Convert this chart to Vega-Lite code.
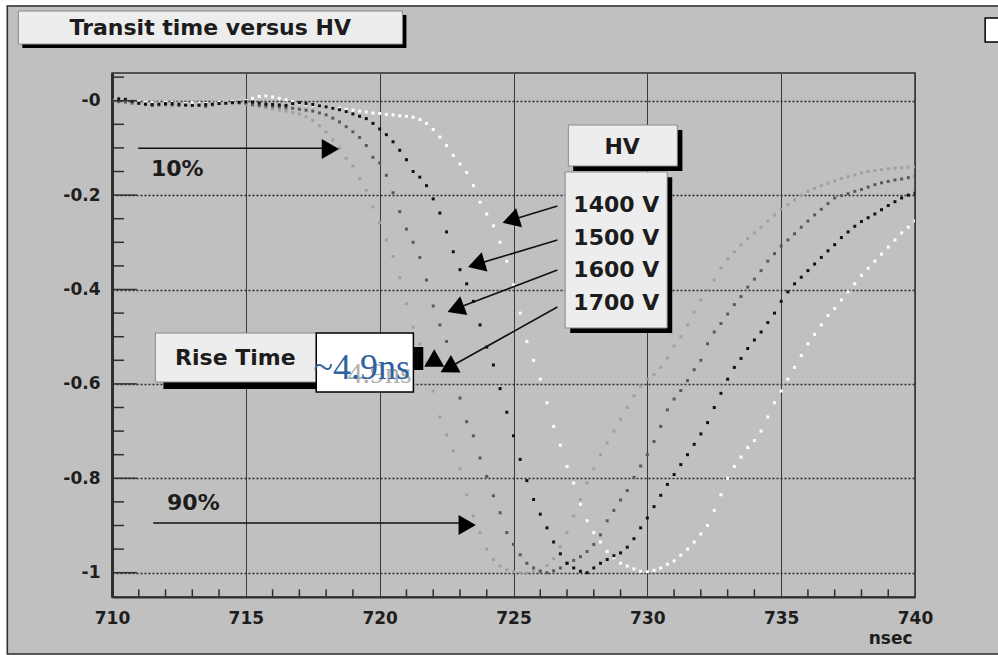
{
"$schema": "https://vega.github.io/schema/vega-lite/v6.json",
"width": 803, "height": 524,
"autosize": {"type": "none"},
"padding": {"left": 112, "top": 73, "right": 83, "bottom": 58},
"background": "#c0c0c0",
"config": {
  "view": {"stroke": "#2e2e2e", "strokeWidth": 1.5},
  "axis": {"labelFont": "DejaVu Sans", "labelFontWeight": "bold", "labelColor": "#1e1e1e", "labelFontSize": 17, "ticks": false, "titleFont": "DejaVu Sans"}
},
"datasets": {
  "curves": [
{"s":"1700 V","t":710,"v":0.004},{"s":"1700 V","t":710.25,"v":0.002},{"s":"1700 V","t":710.5,"v":0.0},{"s":"1700 V","t":710.75,"v":-0.002},
{"s":"1700 V","t":711,"v":-0.004},{"s":"1700 V","t":711.25,"v":-0.005},{"s":"1700 V","t":711.5,"v":-0.006},{"s":"1700 V","t":711.75,"v":-0.008},
{"s":"1700 V","t":712,"v":-0.01},{"s":"1700 V","t":712.25,"v":-0.009},{"s":"1700 V","t":712.5,"v":-0.008},{"s":"1700 V","t":712.75,"v":-0.007},
{"s":"1700 V","t":713,"v":-0.006},{"s":"1700 V","t":713.25,"v":-0.008},{"s":"1700 V","t":713.5,"v":-0.01},{"s":"1700 V","t":713.75,"v":-0.008},
{"s":"1700 V","t":714,"v":-0.005},{"s":"1700 V","t":714.25,"v":-0.005},{"s":"1700 V","t":714.5,"v":-0.006},{"s":"1700 V","t":714.75,"v":-0.007},
{"s":"1700 V","t":715,"v":-0.008},{"s":"1700 V","t":715.25,"v":-0.01},{"s":"1700 V","t":715.5,"v":-0.012},{"s":"1700 V","t":715.75,"v":-0.015},
{"s":"1700 V","t":716,"v":-0.018},{"s":"1700 V","t":716.25,"v":-0.02},{"s":"1700 V","t":716.5,"v":-0.022},{"s":"1700 V","t":716.75,"v":-0.025},
{"s":"1700 V","t":717,"v":-0.028},{"s":"1700 V","t":717.25,"v":-0.034},{"s":"1700 V","t":717.5,"v":-0.042},{"s":"1700 V","t":717.75,"v":-0.053},
{"s":"1700 V","t":718,"v":-0.066},{"s":"1700 V","t":718.25,"v":-0.083},{"s":"1700 V","t":718.5,"v":-0.1},{"s":"1700 V","t":718.75,"v":-0.122},
{"s":"1700 V","t":719,"v":-0.138},{"s":"1700 V","t":719.25,"v":-0.165},{"s":"1700 V","t":719.5,"v":-0.19},{"s":"1700 V","t":719.75,"v":-0.225},
{"s":"1700 V","t":720,"v":-0.258},{"s":"1700 V","t":720.25,"v":-0.295},{"s":"1700 V","t":720.5,"v":-0.33},{"s":"1700 V","t":720.75,"v":-0.375},
{"s":"1700 V","t":721,"v":-0.43},{"s":"1700 V","t":721.25,"v":-0.48},{"s":"1700 V","t":721.5,"v":-0.515},{"s":"1700 V","t":721.75,"v":-0.555},
{"s":"1700 V","t":722,"v":-0.615},{"s":"1700 V","t":722.25,"v":-0.67},{"s":"1700 V","t":722.5,"v":-0.708},{"s":"1700 V","t":722.75,"v":-0.742},
{"s":"1700 V","t":723,"v":-0.78},{"s":"1700 V","t":723.25,"v":-0.835},{"s":"1700 V","t":723.5,"v":-0.88},{"s":"1700 V","t":723.75,"v":-0.915},
{"s":"1700 V","t":724,"v":-0.95},{"s":"1700 V","t":724.25,"v":-0.972},{"s":"1700 V","t":724.5,"v":-0.986},{"s":"1700 V","t":724.75,"v":-0.994},
{"s":"1700 V","t":725,"v":-0.998},{"s":"1700 V","t":725.25,"v":-1.0},{"s":"1700 V","t":725.5,"v":-1.0},{"s":"1700 V","t":725.75,"v":-0.998},
{"s":"1700 V","t":726,"v":-0.995},{"s":"1700 V","t":726.25,"v":-0.985},{"s":"1700 V","t":726.5,"v":-0.97},{"s":"1700 V","t":726.75,"v":-0.945},
{"s":"1700 V","t":727,"v":-0.915},{"s":"1700 V","t":727.25,"v":-0.88},{"s":"1700 V","t":727.5,"v":-0.845},{"s":"1700 V","t":727.75,"v":-0.81},
{"s":"1700 V","t":728,"v":-0.78},{"s":"1700 V","t":728.25,"v":-0.75},{"s":"1700 V","t":728.5,"v":-0.725},{"s":"1700 V","t":728.75,"v":-0.7},
{"s":"1700 V","t":729,"v":-0.675},{"s":"1700 V","t":729.25,"v":-0.65},{"s":"1700 V","t":729.5,"v":-0.625},{"s":"1700 V","t":729.75,"v":-0.605},
{"s":"1700 V","t":730,"v":-0.59},{"s":"1700 V","t":730.25,"v":-0.58},{"s":"1700 V","t":730.5,"v":-0.565},{"s":"1700 V","t":730.75,"v":-0.545},
{"s":"1700 V","t":731,"v":-0.52},{"s":"1700 V","t":731.25,"v":-0.5},{"s":"1700 V","t":731.5,"v":-0.475},{"s":"1700 V","t":731.75,"v":-0.448},
{"s":"1700 V","t":732,"v":-0.422},{"s":"1700 V","t":732.25,"v":-0.402},{"s":"1700 V","t":732.5,"v":-0.38},{"s":"1700 V","t":732.75,"v":-0.354},
{"s":"1700 V","t":733,"v":-0.335},{"s":"1700 V","t":733.25,"v":-0.32},{"s":"1700 V","t":733.5,"v":-0.305},{"s":"1700 V","t":733.75,"v":-0.292},
{"s":"1700 V","t":734,"v":-0.28},{"s":"1700 V","t":734.25,"v":-0.268},{"s":"1700 V","t":734.5,"v":-0.255},{"s":"1700 V","t":734.75,"v":-0.242},
{"s":"1700 V","t":735,"v":-0.23},{"s":"1700 V","t":735.25,"v":-0.22},{"s":"1700 V","t":735.5,"v":-0.21},{"s":"1700 V","t":735.75,"v":-0.2},
{"s":"1700 V","t":736,"v":-0.192},{"s":"1700 V","t":736.25,"v":-0.186},{"s":"1700 V","t":736.5,"v":-0.18},{"s":"1700 V","t":736.75,"v":-0.175},
{"s":"1700 V","t":737,"v":-0.17},{"s":"1700 V","t":737.25,"v":-0.165},{"s":"1700 V","t":737.5,"v":-0.161},{"s":"1700 V","t":737.75,"v":-0.157},
{"s":"1700 V","t":738,"v":-0.153},{"s":"1700 V","t":738.25,"v":-0.15},{"s":"1700 V","t":738.5,"v":-0.148},{"s":"1700 V","t":738.75,"v":-0.146},
{"s":"1700 V","t":739,"v":-0.144},{"s":"1700 V","t":739.25,"v":-0.143},{"s":"1700 V","t":739.5,"v":-0.142},{"s":"1700 V","t":739.75,"v":-0.141},
{"s":"1700 V","t":740,"v":-0.14},
{"s":"1600 V","t":710,"v":0.0},{"s":"1600 V","t":710.25,"v":-0.002},{"s":"1600 V","t":710.5,"v":-0.003},{"s":"1600 V","t":710.75,"v":-0.005},
{"s":"1600 V","t":711,"v":-0.006},{"s":"1600 V","t":711.25,"v":-0.008},{"s":"1600 V","t":711.5,"v":-0.01},{"s":"1600 V","t":711.75,"v":-0.009},
{"s":"1600 V","t":712,"v":-0.008},{"s":"1600 V","t":712.25,"v":-0.009},{"s":"1600 V","t":712.5,"v":-0.01},{"s":"1600 V","t":712.75,"v":-0.009},
{"s":"1600 V","t":713,"v":-0.008},{"s":"1600 V","t":713.25,"v":-0.01},{"s":"1600 V","t":713.5,"v":-0.012},{"s":"1600 V","t":713.75,"v":-0.009},
{"s":"1600 V","t":714,"v":-0.006},{"s":"1600 V","t":714.25,"v":-0.005},{"s":"1600 V","t":714.5,"v":-0.004},{"s":"1600 V","t":714.75,"v":-0.004},
{"s":"1600 V","t":715,"v":-0.005},{"s":"1600 V","t":715.25,"v":-0.008},{"s":"1600 V","t":715.5,"v":-0.01},{"s":"1600 V","t":715.75,"v":-0.011},
{"s":"1600 V","t":716,"v":-0.012},{"s":"1600 V","t":716.25,"v":-0.013},{"s":"1600 V","t":716.5,"v":-0.015},{"s":"1600 V","t":716.75,"v":-0.016},
{"s":"1600 V","t":717,"v":-0.018},{"s":"1600 V","t":717.25,"v":-0.02},{"s":"1600 V","t":717.5,"v":-0.022},{"s":"1600 V","t":717.75,"v":-0.026},
{"s":"1600 V","t":718,"v":-0.03},{"s":"1600 V","t":718.25,"v":-0.037},{"s":"1600 V","t":718.5,"v":-0.045},{"s":"1600 V","t":718.75,"v":-0.055},
{"s":"1600 V","t":719,"v":-0.066},{"s":"1600 V","t":719.25,"v":-0.078},{"s":"1600 V","t":719.5,"v":-0.095},{"s":"1600 V","t":719.75,"v":-0.12},
{"s":"1600 V","t":720,"v":-0.132},{"s":"1600 V","t":720.25,"v":-0.158},{"s":"1600 V","t":720.5,"v":-0.195},{"s":"1600 V","t":720.75,"v":-0.235},
{"s":"1600 V","t":721,"v":-0.272},{"s":"1600 V","t":721.25,"v":-0.3},{"s":"1600 V","t":721.5,"v":-0.332},{"s":"1600 V","t":721.75,"v":-0.38},
{"s":"1600 V","t":722,"v":-0.435},{"s":"1600 V","t":722.25,"v":-0.475},{"s":"1600 V","t":722.5,"v":-0.51},{"s":"1600 V","t":722.75,"v":-0.57},
{"s":"1600 V","t":723,"v":-0.63},{"s":"1600 V","t":723.25,"v":-0.68},{"s":"1600 V","t":723.5,"v":-0.71},{"s":"1600 V","t":723.75,"v":-0.757},
{"s":"1600 V","t":724,"v":-0.796},{"s":"1600 V","t":724.25,"v":-0.837},{"s":"1600 V","t":724.5,"v":-0.873},{"s":"1600 V","t":724.75,"v":-0.915},
{"s":"1600 V","t":725,"v":-0.94},{"s":"1600 V","t":725.25,"v":-0.962},{"s":"1600 V","t":725.5,"v":-0.98},{"s":"1600 V","t":725.75,"v":-0.99},
{"s":"1600 V","t":726,"v":-0.997},{"s":"1600 V","t":726.25,"v":-1.0},{"s":"1600 V","t":726.5,"v":-0.996},{"s":"1600 V","t":726.75,"v":-0.99},
{"s":"1600 V","t":727,"v":-0.98},{"s":"1600 V","t":727.25,"v":-0.974},{"s":"1600 V","t":727.5,"v":-0.966},{"s":"1600 V","t":727.75,"v":-0.955},
{"s":"1600 V","t":728,"v":-0.94},{"s":"1600 V","t":728.25,"v":-0.92},{"s":"1600 V","t":728.5,"v":-0.89},{"s":"1600 V","t":728.75,"v":-0.868},
{"s":"1600 V","t":729,"v":-0.846},{"s":"1600 V","t":729.25,"v":-0.826},{"s":"1600 V","t":729.5,"v":-0.798},{"s":"1600 V","t":729.75,"v":-0.774},
{"s":"1600 V","t":730,"v":-0.75},{"s":"1600 V","t":730.25,"v":-0.722},{"s":"1600 V","t":730.5,"v":-0.69},{"s":"1600 V","t":730.75,"v":-0.655},
{"s":"1600 V","t":731,"v":-0.632},{"s":"1600 V","t":731.25,"v":-0.614},{"s":"1600 V","t":731.5,"v":-0.593},{"s":"1600 V","t":731.75,"v":-0.57},
{"s":"1600 V","t":732,"v":-0.55},{"s":"1600 V","t":732.25,"v":-0.515},{"s":"1600 V","t":732.5,"v":-0.49},{"s":"1600 V","t":732.75,"v":-0.472},
{"s":"1600 V","t":733,"v":-0.452},{"s":"1600 V","t":733.25,"v":-0.432},{"s":"1600 V","t":733.5,"v":-0.415},{"s":"1600 V","t":733.75,"v":-0.395},
{"s":"1600 V","t":734,"v":-0.378},{"s":"1600 V","t":734.25,"v":-0.36},{"s":"1600 V","t":734.5,"v":-0.34},{"s":"1600 V","t":734.75,"v":-0.324},
{"s":"1600 V","t":735,"v":-0.308},{"s":"1600 V","t":735.25,"v":-0.295},{"s":"1600 V","t":735.5,"v":-0.282},{"s":"1600 V","t":735.75,"v":-0.268},
{"s":"1600 V","t":736,"v":-0.255},{"s":"1600 V","t":736.25,"v":-0.242},{"s":"1600 V","t":736.5,"v":-0.23},{"s":"1600 V","t":736.75,"v":-0.218},
{"s":"1600 V","t":737,"v":-0.206},{"s":"1600 V","t":737.25,"v":-0.201},{"s":"1600 V","t":737.5,"v":-0.197},{"s":"1600 V","t":737.75,"v":-0.192},
{"s":"1600 V","t":738,"v":-0.188},{"s":"1600 V","t":738.25,"v":-0.183},{"s":"1600 V","t":738.5,"v":-0.178},{"s":"1600 V","t":738.75,"v":-0.174},
{"s":"1600 V","t":739,"v":-0.171},{"s":"1600 V","t":739.25,"v":-0.168},{"s":"1600 V","t":739.5,"v":-0.166},{"s":"1600 V","t":739.75,"v":-0.163},
{"s":"1600 V","t":740,"v":-0.16},
{"s":"1400 V","t":710,"v":0.004},{"s":"1400 V","t":710.25,"v":0.003},{"s":"1400 V","t":710.5,"v":0.002},{"s":"1400 V","t":710.75,"v":0.0},
{"s":"1400 V","t":711,"v":-0.002},{"s":"1400 V","t":711.25,"v":-0.003},{"s":"1400 V","t":711.5,"v":-0.004},{"s":"1400 V","t":711.75,"v":-0.005},
{"s":"1400 V","t":712,"v":-0.003},{"s":"1400 V","t":712.25,"v":-0.004},{"s":"1400 V","t":712.5,"v":-0.005},{"s":"1400 V","t":712.75,"v":-0.006},
{"s":"1400 V","t":713,"v":-0.004},{"s":"1400 V","t":713.25,"v":-0.005},{"s":"1400 V","t":713.5,"v":-0.006},{"s":"1400 V","t":713.75,"v":-0.005},
{"s":"1400 V","t":714,"v":-0.003},{"s":"1400 V","t":714.25,"v":-0.003},{"s":"1400 V","t":714.5,"v":-0.002},{"s":"1400 V","t":714.75,"v":-0.001},
{"s":"1400 V","t":715,"v":0.0},{"s":"1400 V","t":715.25,"v":0.005},{"s":"1400 V","t":715.5,"v":0.009},{"s":"1400 V","t":715.75,"v":0.01},
{"s":"1400 V","t":716,"v":0.008},{"s":"1400 V","t":716.25,"v":0.005},{"s":"1400 V","t":716.5,"v":0.002},{"s":"1400 V","t":716.75,"v":-0.002},
{"s":"1400 V","t":717,"v":-0.005},{"s":"1400 V","t":717.25,"v":-0.008},{"s":"1400 V","t":717.5,"v":-0.01},{"s":"1400 V","t":717.75,"v":-0.012},
{"s":"1400 V","t":718,"v":-0.013},{"s":"1400 V","t":718.25,"v":-0.015},{"s":"1400 V","t":718.5,"v":-0.016},{"s":"1400 V","t":718.75,"v":-0.018},
{"s":"1400 V","t":719,"v":-0.02},{"s":"1400 V","t":719.25,"v":-0.022},{"s":"1400 V","t":719.5,"v":-0.024},{"s":"1400 V","t":719.75,"v":-0.026},
{"s":"1400 V","t":720,"v":-0.027},{"s":"1400 V","t":720.25,"v":-0.029},{"s":"1400 V","t":720.5,"v":-0.03},{"s":"1400 V","t":720.75,"v":-0.032},
{"s":"1400 V","t":721,"v":-0.033},{"s":"1400 V","t":721.25,"v":-0.035},{"s":"1400 V","t":721.5,"v":-0.04},{"s":"1400 V","t":721.75,"v":-0.048},
{"s":"1400 V","t":722,"v":-0.061},{"s":"1400 V","t":722.25,"v":-0.077},{"s":"1400 V","t":722.5,"v":-0.095},{"s":"1400 V","t":722.75,"v":-0.116},
{"s":"1400 V","t":723,"v":-0.134},{"s":"1400 V","t":723.25,"v":-0.152},{"s":"1400 V","t":723.5,"v":-0.18},{"s":"1400 V","t":723.75,"v":-0.215},
{"s":"1400 V","t":724,"v":-0.24},{"s":"1400 V","t":724.25,"v":-0.265},{"s":"1400 V","t":724.5,"v":-0.3},{"s":"1400 V","t":724.75,"v":-0.34},
{"s":"1400 V","t":725,"v":-0.39},{"s":"1400 V","t":725.25,"v":-0.45},{"s":"1400 V","t":725.5,"v":-0.51},{"s":"1400 V","t":725.75,"v":-0.55},
{"s":"1400 V","t":726,"v":-0.59},{"s":"1400 V","t":726.25,"v":-0.64},{"s":"1400 V","t":726.5,"v":-0.69},{"s":"1400 V","t":726.75,"v":-0.73},
{"s":"1400 V","t":727,"v":-0.775},{"s":"1400 V","t":727.25,"v":-0.81},{"s":"1400 V","t":727.5,"v":-0.855},{"s":"1400 V","t":727.75,"v":-0.89},
{"s":"1400 V","t":728,"v":-0.915},{"s":"1400 V","t":728.25,"v":-0.935},{"s":"1400 V","t":728.5,"v":-0.955},{"s":"1400 V","t":728.75,"v":-0.968},
{"s":"1400 V","t":729,"v":-0.98},{"s":"1400 V","t":729.25,"v":-0.986},{"s":"1400 V","t":729.5,"v":-0.992},{"s":"1400 V","t":729.75,"v":-0.997},
{"s":"1400 V","t":730,"v":-0.998},{"s":"1400 V","t":730.25,"v":-0.995},{"s":"1400 V","t":730.5,"v":-0.99},{"s":"1400 V","t":730.75,"v":-0.982},
{"s":"1400 V","t":731,"v":-0.975},{"s":"1400 V","t":731.25,"v":-0.963},{"s":"1400 V","t":731.5,"v":-0.95},{"s":"1400 V","t":731.75,"v":-0.935},
{"s":"1400 V","t":732,"v":-0.918},{"s":"1400 V","t":732.25,"v":-0.9},{"s":"1400 V","t":732.5,"v":-0.868},{"s":"1400 V","t":732.75,"v":-0.835},
{"s":"1400 V","t":733,"v":-0.8},{"s":"1400 V","t":733.25,"v":-0.775},{"s":"1400 V","t":733.5,"v":-0.755},{"s":"1400 V","t":733.75,"v":-0.735},
{"s":"1400 V","t":734,"v":-0.72},{"s":"1400 V","t":734.25,"v":-0.7},{"s":"1400 V","t":734.5,"v":-0.67},{"s":"1400 V","t":734.75,"v":-0.64},
{"s":"1400 V","t":735,"v":-0.615},{"s":"1400 V","t":735.25,"v":-0.59},{"s":"1400 V","t":735.5,"v":-0.565},{"s":"1400 V","t":735.75,"v":-0.54},
{"s":"1400 V","t":736,"v":-0.515},{"s":"1400 V","t":736.25,"v":-0.495},{"s":"1400 V","t":736.5,"v":-0.475},{"s":"1400 V","t":736.75,"v":-0.455},
{"s":"1400 V","t":737,"v":-0.44},{"s":"1400 V","t":737.25,"v":-0.422},{"s":"1400 V","t":737.5,"v":-0.405},{"s":"1400 V","t":737.75,"v":-0.388},
{"s":"1400 V","t":738,"v":-0.37},{"s":"1400 V","t":738.25,"v":-0.355},{"s":"1400 V","t":738.5,"v":-0.34},{"s":"1400 V","t":738.75,"v":-0.325},
{"s":"1400 V","t":739,"v":-0.31},{"s":"1400 V","t":739.25,"v":-0.295},{"s":"1400 V","t":739.5,"v":-0.28},{"s":"1400 V","t":739.75,"v":-0.268},
{"s":"1400 V","t":740,"v":-0.255},
{"s":"1500 V","t":710,"v":0.005},{"s":"1500 V","t":710.25,"v":0.004},{"s":"1500 V","t":710.5,"v":0.003},{"s":"1500 V","t":710.75,"v":-0.001},
{"s":"1500 V","t":711,"v":-0.005},{"s":"1500 V","t":711.25,"v":-0.007},{"s":"1500 V","t":711.5,"v":-0.008},{"s":"1500 V","t":711.75,"v":-0.007},
{"s":"1500 V","t":712,"v":-0.006},{"s":"1500 V","t":712.25,"v":-0.006},{"s":"1500 V","t":712.5,"v":-0.007},{"s":"1500 V","t":712.75,"v":-0.009},
{"s":"1500 V","t":713,"v":-0.01},{"s":"1500 V","t":713.25,"v":-0.009},{"s":"1500 V","t":713.5,"v":-0.008},{"s":"1500 V","t":713.75,"v":-0.007},
{"s":"1500 V","t":714,"v":-0.006},{"s":"1500 V","t":714.25,"v":-0.005},{"s":"1500 V","t":714.5,"v":-0.004},{"s":"1500 V","t":714.75,"v":-0.003},
{"s":"1500 V","t":715,"v":-0.002},{"s":"1500 V","t":715.25,"v":-0.003},{"s":"1500 V","t":715.5,"v":-0.005},{"s":"1500 V","t":715.75,"v":-0.007},
{"s":"1500 V","t":716,"v":-0.008},{"s":"1500 V","t":716.25,"v":-0.009},{"s":"1500 V","t":716.5,"v":-0.01},{"s":"1500 V","t":716.75,"v":-0.006},
{"s":"1500 V","t":717,"v":-0.004},{"s":"1500 V","t":717.25,"v":-0.006},{"s":"1500 V","t":717.5,"v":-0.008},{"s":"1500 V","t":717.75,"v":-0.011},
{"s":"1500 V","t":718,"v":-0.013},{"s":"1500 V","t":718.25,"v":-0.016},{"s":"1500 V","t":718.5,"v":-0.019},{"s":"1500 V","t":718.75,"v":-0.023},
{"s":"1500 V","t":719,"v":-0.028},{"s":"1500 V","t":719.25,"v":-0.033},{"s":"1500 V","t":719.5,"v":-0.038},{"s":"1500 V","t":719.75,"v":-0.048},
{"s":"1500 V","t":720,"v":-0.06},{"s":"1500 V","t":720.25,"v":-0.072},{"s":"1500 V","t":720.5,"v":-0.087},{"s":"1500 V","t":720.75,"v":-0.105},
{"s":"1500 V","t":721,"v":-0.125},{"s":"1500 V","t":721.25,"v":-0.15},{"s":"1500 V","t":721.5,"v":-0.162},{"s":"1500 V","t":721.75,"v":-0.18},
{"s":"1500 V","t":722,"v":-0.208},{"s":"1500 V","t":722.25,"v":-0.238},{"s":"1500 V","t":722.5,"v":-0.278},{"s":"1500 V","t":722.75,"v":-0.32},
{"s":"1500 V","t":723,"v":-0.358},{"s":"1500 V","t":723.25,"v":-0.388},{"s":"1500 V","t":723.5,"v":-0.425},{"s":"1500 V","t":723.75,"v":-0.475},
{"s":"1500 V","t":724,"v":-0.522},{"s":"1500 V","t":724.25,"v":-0.56},{"s":"1500 V","t":724.5,"v":-0.61},{"s":"1500 V","t":724.75,"v":-0.66},
{"s":"1500 V","t":725,"v":-0.71},{"s":"1500 V","t":725.25,"v":-0.76},{"s":"1500 V","t":725.5,"v":-0.805},{"s":"1500 V","t":725.75,"v":-0.845},
{"s":"1500 V","t":726,"v":-0.876},{"s":"1500 V","t":726.25,"v":-0.905},{"s":"1500 V","t":726.5,"v":-0.935},{"s":"1500 V","t":726.75,"v":-0.96},
{"s":"1500 V","t":727,"v":-0.98},{"s":"1500 V","t":727.25,"v":-0.99},{"s":"1500 V","t":727.5,"v":-0.997},{"s":"1500 V","t":727.75,"v":-1.0},
{"s":"1500 V","t":728,"v":-0.99},{"s":"1500 V","t":728.25,"v":-0.98},{"s":"1500 V","t":728.5,"v":-0.972},{"s":"1500 V","t":728.75,"v":-0.964},
{"s":"1500 V","t":729,"v":-0.958},{"s":"1500 V","t":729.25,"v":-0.946},{"s":"1500 V","t":729.5,"v":-0.928},{"s":"1500 V","t":729.75,"v":-0.905},
{"s":"1500 V","t":730,"v":-0.884},{"s":"1500 V","t":730.25,"v":-0.86},{"s":"1500 V","t":730.5,"v":-0.836},{"s":"1500 V","t":730.75,"v":-0.813},
{"s":"1500 V","t":731,"v":-0.792},{"s":"1500 V","t":731.25,"v":-0.771},{"s":"1500 V","t":731.5,"v":-0.75},{"s":"1500 V","t":731.75,"v":-0.728},
{"s":"1500 V","t":732,"v":-0.706},{"s":"1500 V","t":732.25,"v":-0.682},{"s":"1500 V","t":732.5,"v":-0.65},{"s":"1500 V","t":732.75,"v":-0.62},
{"s":"1500 V","t":733,"v":-0.59},{"s":"1500 V","t":733.25,"v":-0.565},{"s":"1500 V","t":733.5,"v":-0.546},{"s":"1500 V","t":733.75,"v":-0.525},
{"s":"1500 V","t":734,"v":-0.507},{"s":"1500 V","t":734.25,"v":-0.49},{"s":"1500 V","t":734.5,"v":-0.47},{"s":"1500 V","t":734.75,"v":-0.45},
{"s":"1500 V","t":735,"v":-0.425},{"s":"1500 V","t":735.25,"v":-0.405},{"s":"1500 V","t":735.5,"v":-0.388},{"s":"1500 V","t":735.75,"v":-0.374},
{"s":"1500 V","t":736,"v":-0.36},{"s":"1500 V","t":736.25,"v":-0.346},{"s":"1500 V","t":736.5,"v":-0.332},{"s":"1500 V","t":736.75,"v":-0.318},
{"s":"1500 V","t":737,"v":-0.305},{"s":"1500 V","t":737.25,"v":-0.29},{"s":"1500 V","t":737.5,"v":-0.278},{"s":"1500 V","t":737.75,"v":-0.266},
{"s":"1500 V","t":738,"v":-0.256},{"s":"1500 V","t":738.25,"v":-0.248},{"s":"1500 V","t":738.5,"v":-0.24},{"s":"1500 V","t":738.75,"v":-0.231},
{"s":"1500 V","t":739,"v":-0.222},{"s":"1500 V","t":739.25,"v":-0.214},{"s":"1500 V","t":739.5,"v":-0.206},{"s":"1500 V","t":739.75,"v":-0.2},
{"s":"1500 V","t":740,"v":-0.196}
  ],
  "strips": [
    {"t": 705.0, "t2": 706.06, "v": 0.3, "v2": -1.3},
    {"t": 705.0, "t2": 745.0, "v": 0.3, "v2": 0.2021},
    {"t": 705.0, "t2": 745.0, "v": -1.1733, "v2": -1.3}
  ],
  "frame": [{"t": 706.09, "t2": 743.37, "v": 0.2006, "v2": -1.1722}],
  "shadows": [
    {"t": 706.65, "t2": 721.0, "v": 0.1816, "v2": 0.1117},
    {"t": 727.23, "t2": 731.31, "v": -0.0621, "v2": -0.1489},
    {"t": 727.12, "t2": 730.93, "v": -0.162, "v2": -0.4922},
    {"t": 711.92, "t2": 717.86, "v": -0.5028, "v2": -0.6108},
    {"t": 721.22, "t2": 721.63, "v": -0.5218, "v2": -0.5705}
  ],
  "boxes": [
    {"t": 706.5, "t2": 720.85, "v": 0.19, "v2": 0.12},
    {"t": 727.05, "t2": 731.12, "v": -0.0515, "v2": -0.1383},
    {"t": 726.93, "t2": 730.74, "v": -0.151, "v2": -0.4816},
    {"t": 711.62, "t2": 717.67, "v": -0.4922, "v2": -0.596}
  ],
  "whiteboxes": [
    {"t": 717.63, "t2": 721.26, "v": -0.4922, "v2": -0.6172},
    {"t": 742.62, "t2": 743.5, "v": 0.1752, "v2": 0.1244}
  ],
  "labels": [
    {"label": "Transit time versus HV", "t": 713.67, "v": 0.154},
    {"label": "HV", "t": 729.06, "v": -0.098},
    {"label": "1400 V", "t": 728.84, "v": -0.221},
    {"label": "1500 V", "t": 728.84, "v": -0.2909},
    {"label": "1600 V", "t": 728.84, "v": -0.3589},
    {"label": "1700 V", "t": 728.84, "v": -0.4286},
    {"label": "10%", "t": 712.44, "v": -0.1447},
    {"label": "90%", "t": 713.04, "v": -0.8523},
    {"label": "Rise Time", "t": 714.61, "v": -0.5451}
  ],
  "shafts": [
    {"t": 710.98, "v": -0.1008, "t2": 717.97, "v2": -0.1008},
    {"t": 711.54, "v": -0.8947, "t2": 723.09, "v2": -0.8947},
    {"t": 726.64, "v": -0.2231, "t2": 724.92, "v2": -0.2528},
    {"t": 726.64, "v": -0.2951, "t2": 723.61, "v2": -0.3468},
    {"t": 726.64, "v": -0.3587, "t2": 722.84, "v2": -0.4409},
    {"t": 726.64, "v": -0.4371, "t2": 722.56, "v2": -0.5663}
  ],
  "heads": [
    {"t": 718.16, "v": -0.1023, "a": 0},
    {"t": 723.27, "v": -0.899, "a": 0},
    {"t": 724.9, "v": -0.2534, "a": 162.8},
    {"t": 723.61, "v": -0.3468, "a": 163.3},
    {"t": 722.84, "v": -0.4409, "a": 159.1},
    {"t": 722.56, "v": -0.5663, "a": 151},
    {"t": 722.04, "v": -0.5451, "a": -90}
  ]
},
"layer": [
  {
    "data": {"name": "curves"},
    "mark": {"type": "point", "shape": "square", "filled": true, "size": 9, "opacity": 1, "clip": true},
    "encoding": {
      "x": {"field": "t", "type": "quantitative", "scale": {"domain": [710, 740], "nice": false, "zero": false},
        "axis": {"values": [710, 715, 720, 725, 730, 735, 740], "grid": true, "gridColor": "#3a3a3a", "gridWidth": 1, "domainColor": "#2e2e2e", "domainWidth": 2, "labelPadding": 13, "labelFlush": false, "title": "nsec", "titleFontSize": 17, "titleFontWeight": "bold", "titleColor": "#1e1e1e", "titleAnchor": "end", "titleAlign": "right", "titleX": 800, "titleY": 41, "titleBaseline": "middle"}},
      "y": {"field": "v", "type": "quantitative", "scale": {"domain": [-1.0515, 0.0587], "nice": false, "zero": false},
        "axis": {"values": [0, -0.2, -0.4, -0.6, -0.8, -1], "grid": true, "gridDash": [2, 2], "gridColor": "#2a2a2a", "gridWidth": 1.3, "domainColor": "#2e2e2e", "domainWidth": 3, "labelPadding": 12, "title": null,
          "labelExpr": "datum.value == 0 ? '-0' : (datum.value == -1 ? '-1' : '-' + format(-datum.value, '.1f'))"}},
      "color": {"field": "s", "type": "nominal", "scale": {"domain": ["1400 V", "1500 V", "1600 V", "1700 V"], "range": ["#ffffff", "#111111", "#5a5a5a", "#a0a0a0"]}, "legend": null}
    }
  },
  {
    "data": {"name": "strips"},
    "mark": {"type": "rect", "fill": "#ffffff", "clip": false},
    "encoding": {
      "x": {"field": "t", "type": "quantitative"},
      "x2": {"field": "t2"},
      "y": {"field": "v", "type": "quantitative"},
      "y2": {"field": "v2"}
    }
  },
  {
    "data": {"name": "frame"},
    "mark": {"type": "rect", "fill": null, "fillOpacity": 0, "stroke": "#303030", "strokeWidth": 1.5, "clip": false},
    "encoding": {
      "x": {"field": "t", "type": "quantitative"},
      "x2": {"field": "t2"},
      "y": {"field": "v", "type": "quantitative"},
      "y2": {"field": "v2"}
    }
  },
  {
    "data": {"values": [{"v": 0}, {"v": -0.2}, {"v": -0.4}, {"v": -0.6}, {"v": -0.8}, {"v": -1}]},
    "mark": {"type": "rule", "color": "#2e2e2e", "strokeWidth": 1.5},
    "encoding": {
      "y": {"field": "v", "type": "quantitative"},
      "x": {"datum": 710, "type": "quantitative"},
      "x2": {"datum": 710.93}
    }
  },
  {
    "data": {"values": [{"v": 0.05}, {"v": -0.05}, {"v": -0.1}, {"v": -0.15}, {"v": -0.25}, {"v": -0.3}, {"v": -0.35}, {"v": -0.45}, {"v": -0.5}, {"v": -0.55}, {"v": -0.65}, {"v": -0.7}, {"v": -0.75}, {"v": -0.85}, {"v": -0.9}, {"v": -0.95}]},
    "mark": {"type": "rule", "color": "#2e2e2e", "strokeWidth": 1.5},
    "encoding": {
      "y": {"field": "v", "type": "quantitative"},
      "x": {"datum": 710, "type": "quantitative"},
      "x2": {"datum": 710.45}
    }
  },
  {
    "data": {"values": [{"t": 711}, {"t": 712}, {"t": 713}, {"t": 714}, {"t": 716}, {"t": 717}, {"t": 718}, {"t": 719}, {"t": 721}, {"t": 722}, {"t": 723}, {"t": 724}, {"t": 726}, {"t": 727}, {"t": 728}, {"t": 729}, {"t": 731}, {"t": 732}, {"t": 733}, {"t": 734}, {"t": 736}, {"t": 737}, {"t": 738}, {"t": 739}]},
    "mark": {"type": "rule", "color": "#2e2e2e", "strokeWidth": 1.5},
    "encoding": {
      "x": {"field": "t", "type": "quantitative"},
      "y": {"datum": -1.0515, "type": "quantitative"},
      "y2": {"datum": -1.0352}
    }
  },
  {
    "data": {"name": "shafts"},
    "mark": {"type": "rule", "color": "#111111", "strokeWidth": 1.6, "clip": false},
    "encoding": {
      "x": {"field": "t", "type": "quantitative"},
      "x2": {"field": "t2"},
      "y": {"field": "v", "type": "quantitative"},
      "y2": {"field": "v2"}
    }
  },
  {
    "data": {"name": "heads"},
    "mark": {"type": "point", "shape": "triangle-right", "filled": true, "color": "#000000", "size": 400, "opacity": 1, "clip": false},
    "encoding": {
      "x": {"field": "t", "type": "quantitative"},
      "y": {"field": "v", "type": "quantitative"},
      "angle": {"field": "a", "type": "quantitative", "scale": null}
    }
  },
  {
    "data": {"name": "shadows"},
    "mark": {"type": "rect", "fill": "#000000", "clip": false},
    "encoding": {
      "x": {"field": "t", "type": "quantitative"},
      "x2": {"field": "t2"},
      "y": {"field": "v", "type": "quantitative"},
      "y2": {"field": "v2"}
    }
  },
  {
    "data": {"name": "boxes"},
    "mark": {"type": "rect", "fill": "#ededed", "stroke": "#8a8a8a", "strokeWidth": 1, "clip": false},
    "encoding": {
      "x": {"field": "t", "type": "quantitative"},
      "x2": {"field": "t2"},
      "y": {"field": "v", "type": "quantitative"},
      "y2": {"field": "v2"}
    }
  },
  {
    "data": {"name": "whiteboxes"},
    "mark": {"type": "rect", "fill": "#ffffff", "stroke": "#000000", "strokeWidth": 1.5, "clip": false},
    "encoding": {
      "x": {"field": "t", "type": "quantitative"},
      "x2": {"field": "t2"},
      "y": {"field": "v", "type": "quantitative"},
      "y2": {"field": "v2"}
    }
  },
  {
    "data": {"name": "labels"},
    "mark": {"type": "text", "font": "DejaVu Sans", "fontWeight": "bold", "fontSize": 22, "color": "#1c1c1c", "align": "center", "baseline": "middle", "clip": false},
    "encoding": {
      "x": {"field": "t", "type": "quantitative"},
      "y": {"field": "v", "type": "quantitative"},
      "text": {"field": "label"}
    }
  },
  {
    "data": {"values": [{"label": "4.9ns", "t": 720.0, "v": -0.58}]},
    "mark": {"type": "text", "font": "Liberation Serif", "fontSize": 30, "color": "#b0b0b0", "align": "center", "baseline": "middle", "clip": false},
    "encoding": {
      "x": {"field": "t", "type": "quantitative"},
      "y": {"field": "v", "type": "quantitative"},
      "text": {"field": "label"}
    }
  },
  {
    "data": {"values": [{"label": "~4.9ns", "t": 719.33, "v": -0.5663}]},
    "mark": {"type": "text", "font": "Liberation Serif", "fontSize": 36, "color": "#2f63a0", "align": "center", "baseline": "middle", "clip": false},
    "encoding": {
      "x": {"field": "t", "type": "quantitative"},
      "y": {"field": "v", "type": "quantitative"},
      "text": {"field": "label"}
    }
  }
]
}
